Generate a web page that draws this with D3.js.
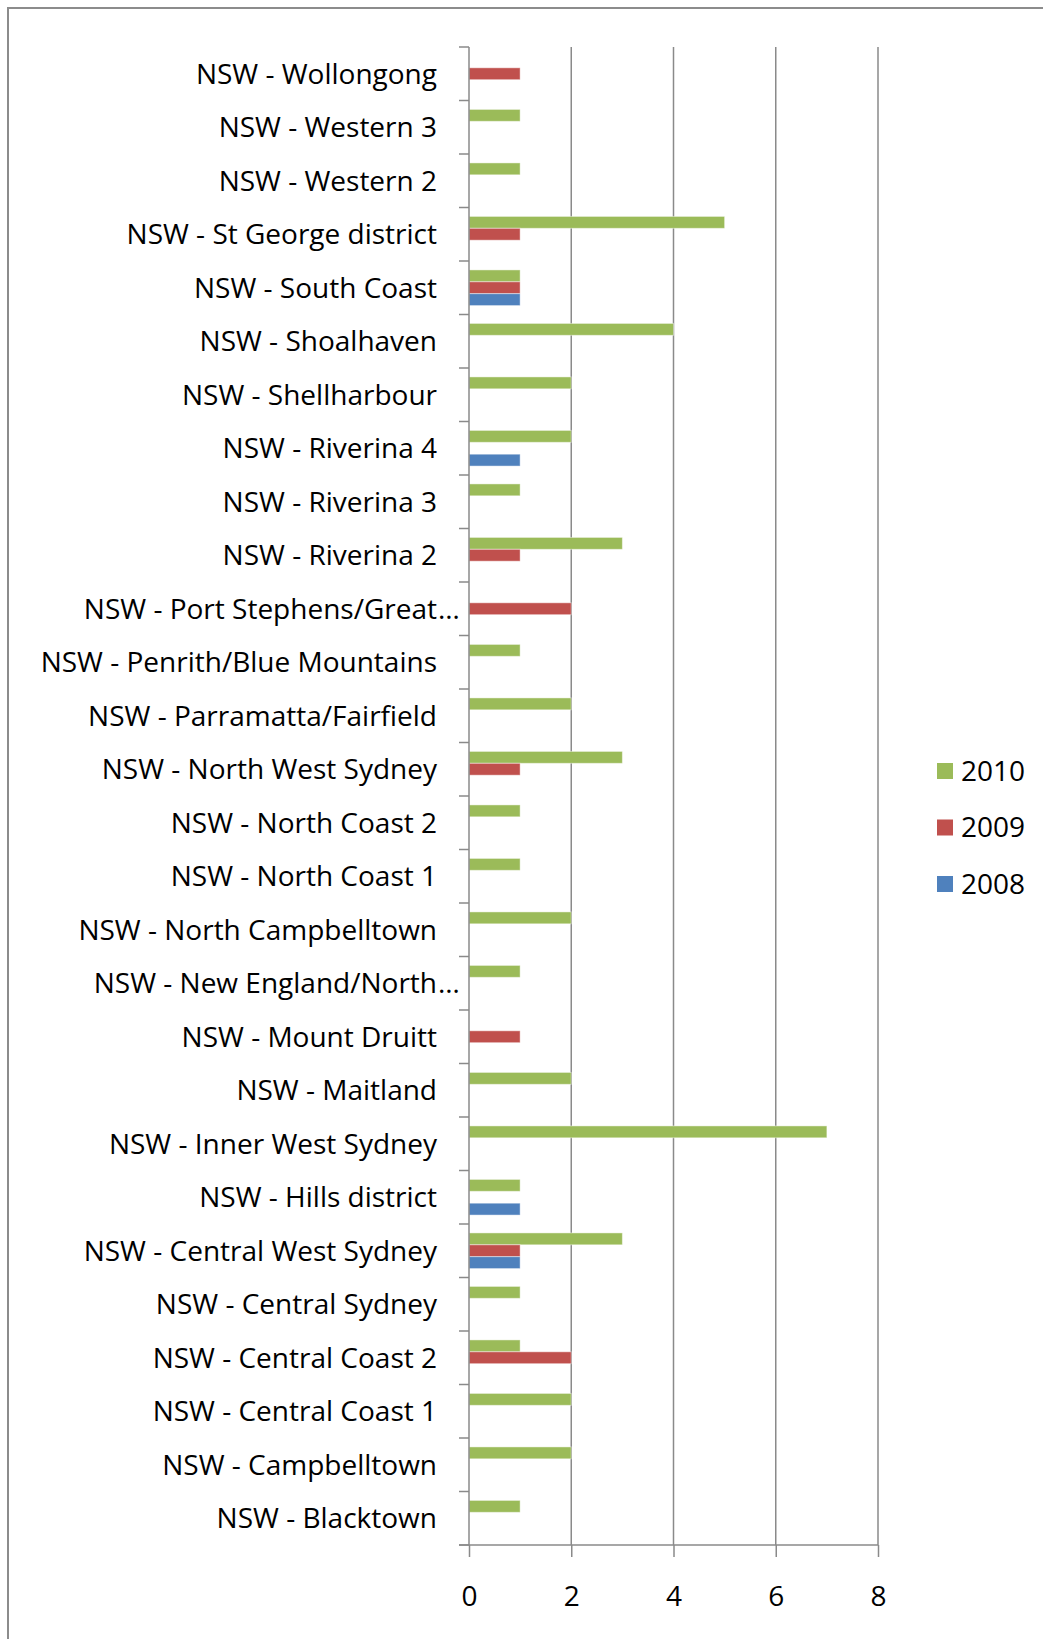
<!DOCTYPE html>
<html>
<head>
<meta charset="utf-8">
<script src="https://cdn.jsdelivr.net/npm/d3@7"></script>
<style>
  body { margin: 0; background: #fff; }
  svg { display: block; }
  text { font-family: "Open Sans", "DejaVu Sans", sans-serif; fill: #000; }
</style>
</head>
<body>
<svg id="chart" width="1043" height="1639"></svg>
<script>
// Categories, listed from the top of the chart to the bottom
const categories = [
  "NSW - Wollongong",
  "NSW - Western 3",
  "NSW - Western 2",
  "NSW - St George district",
  "NSW - South Coast",
  "NSW - Shoalhaven",
  "NSW - Shellharbour",
  "NSW - Riverina 4",
  "NSW - Riverina 3",
  "NSW - Riverina 2",
  "NSW - Port Stephens/Great…",
  "NSW - Penrith/Blue Mountains",
  "NSW - Parramatta/Fairfield",
  "NSW - North West Sydney",
  "NSW - North Coast 2",
  "NSW - North Coast 1",
  "NSW - North Campbelltown",
  "NSW - New England/North…",
  "NSW - Mount Druitt",
  "NSW - Maitland",
  "NSW - Inner West Sydney",
  "NSW - Hills district",
  "NSW - Central West Sydney",
  "NSW - Central Sydney",
  "NSW - Central Coast 2",
  "NSW - Central Coast 1",
  "NSW - Campbelltown",
  "NSW - Blacktown"
];

const seriesNames = ["2010", "2009", "2008"];

const values2010 = [0, 1, 1, 5, 1, 4, 2, 2, 1, 3, 0, 1, 2, 3, 1, 1, 2, 1, 0, 2, 7, 1, 3, 1, 1, 2, 2, 1];
const values2009 = [1, 0, 0, 1, 1, 0, 0, 0, 0, 1, 2, 0, 0, 1, 0, 0, 0, 0, 1, 0, 0, 0, 1, 0, 2, 0, 0, 0];
const values2008 = [0, 0, 0, 0, 1, 0, 0, 1, 0, 0, 0, 0, 0, 0, 0, 0, 0, 0, 0, 0, 0, 1, 1, 0, 0, 0, 0, 0];

const xTicks = [0, 2, 4, 6, 8];
const seriesColors = ["#9BBB59", "#C0504D", "#4F81BD"];

const seriesValues = [values2010, values2009, values2008];

const svg = d3.select("#chart");
const W = 1043, H = 1639;

// plot area
const plotLeft = 469, plotRight = 878, plotTop = 47, plotBottom = 1545;
const fontSize = 28;
const axisColor = "#8a8a8a";

svg.append("rect").attr("x", 0).attr("y", 0).attr("width", W).attr("height", H).attr("fill", "#fff");

// outer chart frame
svg.append("rect")
  .attr("x", 8).attr("y", 8)
  .attr("width", W + 20).attr("height", H + 20)
  .attr("fill", "none")
  .attr("stroke", "#8c8c8c")
  .attr("stroke-width", 2);

const x = d3.scaleLinear().domain([0, 8]).range([plotLeft, plotRight]);
const y = d3.scaleBand().domain(categories).range([plotTop, plotBottom])
  .paddingInner(1 / 3).paddingOuter(1 / 6);
const ySub = d3.scaleBand().domain(seriesNames).range([0, y.bandwidth()]);
const color = d3.scaleOrdinal().domain(seriesNames).range(seriesColors);

// vertical gridlines
svg.append("g").selectAll("line")
  .data(xTicks.filter(t => t > 0))
  .join("line")
  .attr("x1", d => x(d)).attr("x2", d => x(d))
  .attr("y1", plotTop).attr("y2", plotBottom)
  .attr("stroke", axisColor).attr("stroke-width", 1.5);

// bars
const rows = categories.map((c, i) => ({
  category: c,
  values: seriesNames.map((s, k) => ({ series: s, value: seriesValues[k][i] }))
}));

const groups = svg.append("g").selectAll("g")
  .data(rows)
  .join("g")
  .attr("transform", d => `translate(0,${y(d.category)})`);

groups.selectAll("rect")
  .data(d => d.values.filter(v => v.value > 0))
  .join("rect")
  .attr("x", x(0))
  .attr("y", d => ySub(d.series))
  .attr("width", d => x(d.value) - x(0))
  .attr("height", ySub.bandwidth())
  .attr("fill", d => color(d.series))
  .attr("stroke", "rgba(255,255,255,0.45)")
  .attr("stroke-width", 1);

// category axis line and boundary ticks
const yAxis = svg.append("g");
yAxis.append("line")
  .attr("x1", x(0)).attr("x2", x(0))
  .attr("y1", plotTop).attr("y2", plotBottom)
  .attr("stroke", axisColor).attr("stroke-width", 1.5);
yAxis.selectAll("line.tick")
  .data(d3.range(categories.length + 1))
  .join("line")
  .attr("class", "tick")
  .attr("x1", x(0) - 10).attr("x2", x(0))
  .attr("y1", i => plotTop + i * y.step()).attr("y2", i => plotTop + i * y.step())
  .attr("stroke", axisColor).attr("stroke-width", 1.5);

// category labels; a trailing ellipsis hangs past the label edge
const labelX = x(0) - 32;
const labels = yAxis.selectAll("g.label")
  .data(categories)
  .join("g")
  .attr("class", "label")
  .attr("transform", d => `translate(${labelX},${y(d) + y.bandwidth() / 2})`);
labels.append("text")
  .attr("text-anchor", "end")
  .attr("dy", "0.35em")
  .attr("font-size", fontSize)
  .text(d => d.endsWith("…") ? d.slice(0, -1) : d);
labels.filter(d => d.endsWith("…"))
  .append("text")
  .attr("x", 1)
  .attr("dy", "0.35em")
  .attr("font-size", fontSize)
  .text("…");

// value axis
const xAxis = svg.append("g").attr("transform", `translate(0,${plotBottom})`)
  .call(d3.axisBottom(x).tickValues(xTicks).tickSize(12).tickSizeOuter(0).tickPadding(29));
xAxis.select(".domain").remove();
xAxis.selectAll(".tick line").attr("stroke", axisColor).attr("stroke-width", 1.5);
xAxis.selectAll(".tick text")
  .attr("font-size", fontSize)
  .attr("font-family", "\"Open Sans\", sans-serif")
  .attr("fill", "#000");
xAxis.append("line")
  .attr("x1", x(0) - 10).attr("x2", x(8))
  .attr("y1", 0).attr("y2", 0)
  .attr("stroke", axisColor).attr("stroke-width", 1.5);

// legend
const legend = svg.append("g").attr("transform", "translate(937,771)");
const li = legend.selectAll("g")
  .data(seriesNames)
  .join("g")
  .attr("transform", (d, i) => `translate(0,${i * 56.5})`);
li.append("rect")
  .attr("x", 0).attr("y", -8)
  .attr("width", 16).attr("height", 16)
  .attr("fill", d => color(d));
li.append("text")
  .attr("x", 24)
  .attr("dy", "0.35em")
  .attr("font-size", fontSize)
  .text(d => d);
</script>
</body>
</html>
